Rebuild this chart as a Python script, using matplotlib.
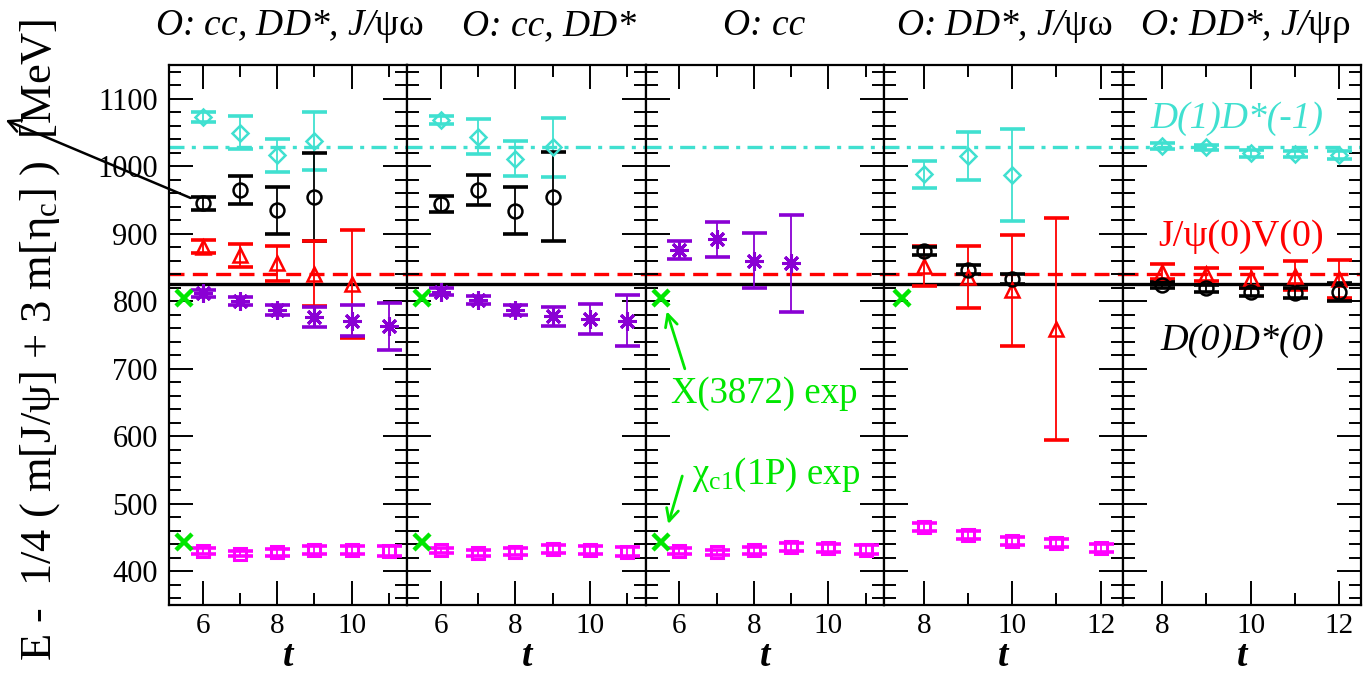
import matplotlib
matplotlib.use("Agg")
import matplotlib.pyplot as plt
from matplotlib.ticker import MultipleLocator

plt.rcParams['font.family'] = ['Liberation Serif', 'DejaVu Serif']
plt.rcParams['mathtext.fontset'] = 'custom'
plt.rcParams['mathtext.rm'] = 'Liberation Serif'
plt.rcParams['mathtext.it'] = 'Liberation Serif:italic'
plt.rcParams['mathtext.bf'] = 'Liberation Serif:bold'
plt.rcParams['mathtext.default'] = 'rm'

# ---------------- data ----------------
titles = ["O: cc, DD*, J/$\\psi\\omega$", "O: cc, DD*", "O: cc",
          "O: DD*, J/$\\psi\\omega$", "O: DD*, J/$\\psi\\rho$"]
title_x_px = [289, 549, 764, 1004, 1245]
xlims = [(5.1, 11.5), (5.1, 11.5), (5.1, 11.5), (7.1, 12.5), (7.1, 12.5)]
xtick_labels = [[6, 8, 10], [6, 8, 10], [6, 8, 10], [8, 10, 12], [8, 10, 12]]

# panel 1
p1_cyan_t = [6, 7, 8, 9];             p1_cyan_v = [1073, 1050, 1016, 1038];    p1_cyan_e = [7, 25, 25, 43]
p1_black_t = [6, 7, 8, 9];            p1_black_v = [945, 965, 935, 955];      p1_black_e = [10, 21, 35, 65]
p1_red_t = [6, 7, 8, 9, 10];          p1_red_v = [881, 868, 856, 841, 825];   p1_red_e = [10, 17, 26, 48, 80]
p1_purple_t = [6, 7, 8, 9, 10, 11];   p1_purple_v = [812, 801, 787, 777, 771, 763]; p1_purple_e = [5, 6, 8, 15, 23, 35]
p1_mag_t = [6, 7, 8, 9, 10, 11];      p1_mag_v = [430, 426, 428, 432, 431, 430];    p1_mag_e = [4, 4, 5, 6, 6, 7]
# panel 2
p2_cyan_t = [6, 7, 8, 9];             p2_cyan_v = [1068, 1044, 1011, 1028];    p2_cyan_e = [6, 26, 26, 44]
p2_black_t = [6, 7, 8, 9];            p2_black_v = [944, 965, 934, 955];      p2_black_e = [12, 22, 35, 66]
p2_purple_t = [6, 7, 8, 9, 10, 11];   p2_purple_v = [814, 802, 787, 778, 774, 771]; p2_purple_e = [5, 6, 8, 14, 22, 38]
p2_mag_t = [6, 7, 8, 9, 10, 11];      p2_mag_v = [431, 427, 429, 433, 431, 429];    p2_mag_e = [4, 4, 5, 6, 6, 7]
# panel 3
p3_purple_t = [6, 7, 8, 9];           p3_purple_v = [876, 892, 860, 856];     p3_purple_e = [14, 26, 41, 72]
p3_mag_t = [6, 7, 8, 9, 10, 11];      p3_mag_v = [430, 428, 431, 436, 435, 432];    p3_mag_e = [4, 4, 5, 6, 6, 7]
# panel 4
p4_cyan_t = [8, 9, 10];               p4_cyan_v = [988, 1015, 987];           p4_cyan_e = [20, 36, 68]
p4_black_t = [8, 9, 10];              p4_black_v = [874, 847, 833];           p4_black_e = [6, 6, 7]
p4_red_t = [8, 9, 10, 11];            p4_red_v = [852, 836, 816, 759];        p4_red_e = [30, 46, 82, 164]
p4_mag_t = [8, 9, 10, 11, 12];        p4_mag_v = [465, 454, 445, 442, 434];   p4_mag_e = [6, 6, 6, 6, 6]
# panel 5
p5_cyan_t = [8, 9, 10, 11, 12];       p5_cyan_v = [1030, 1028, 1019, 1018, 1017]; p5_cyan_e = [5, 4, 5, 5, 6]
p5_red_t = [8, 9, 10, 11, 12];        p5_red_v = [844, 840, 835, 838, 833];   p5_red_e = [11, 10, 15, 21, 28]
p5_black_t = [8, 9, 10, 11, 12];      p5_black_v = [824, 819, 814, 812, 814]; p5_black_e = [5, 5, 6, 7, 13]

# experimental values (green crosses)
exp_x_t = [5.5, 5.5, 5.5, 7.5]
x3872 = 804.6
chic1 = 443.6
chic1_panels = [0, 1, 2]

# thresholds
thr_DD = 826
thr_JpsiV = 841
thr_D1D1 = 1028

# ---------------- styles ----------------
CYAN = '#40E0D0'
BLACK = 'black'
RED = '#FF0000'
PURPLE = '#8A00D4'
MAG = '#FF00FF'
GREEN = '#00E600'

styles = {
    'cyan': dict(color=CYAN, marker='D', ms=8, mfc='none', mew=1.8),
    'black': dict(color=BLACK, marker='o', ms=10, mfc='none', mew=1.8),
    'red': dict(color=RED, marker='^', ms=10, mfc='none', mew=1.8),
    'purple': dict(color=PURPLE, marker=(8, 2, 0), ms=13, mew=2.2),
    'mag': dict(color=MAG, marker='s', ms=9, mfc='none', mew=2.2),
}

panels = [
    [('cyan', p1_cyan_t, p1_cyan_v, p1_cyan_e), ('black', p1_black_t, p1_black_v, p1_black_e),
     ('red', p1_red_t, p1_red_v, p1_red_e), ('purple', p1_purple_t, p1_purple_v, p1_purple_e),
     ('mag', p1_mag_t, p1_mag_v, p1_mag_e)],
    [('cyan', p2_cyan_t, p2_cyan_v, p2_cyan_e), ('black', p2_black_t, p2_black_v, p2_black_e),
     ('purple', p2_purple_t, p2_purple_v, p2_purple_e), ('mag', p2_mag_t, p2_mag_v, p2_mag_e)],
    [('purple', p3_purple_t, p3_purple_v, p3_purple_e), ('mag', p3_mag_t, p3_mag_v, p3_mag_e)],
    [('cyan', p4_cyan_t, p4_cyan_v, p4_cyan_e), ('red', p4_red_t, p4_red_v, p4_red_e),
     ('black', p4_black_t, p4_black_v, p4_black_e), ('mag', p4_mag_t, p4_mag_v, p4_mag_e)],
    [('cyan', p5_cyan_t, p5_cyan_v, p5_cyan_e), ('red', p5_red_t, p5_red_v, p5_red_e),
     ('black', p5_black_t, p5_black_v, p5_black_e)],
]

W, H = 1368, 678
fig = plt.figure(figsize=(W / 100, H / 100), dpi=100)
L, R, B, T = 169 / W, 1361 / W, 1 - 605 / H, 1 - 65 / H
pw = (R - L) / 5
axes = [fig.add_axes([L + i * pw, B, pw, T - B]) for i in range(5)]

for i, ax in enumerate(axes):
    ax.set_xlim(*xlims[i])
    ax.set_ylim(350, 1150)
    for sp in ax.spines.values():
        sp.set_linewidth(1.6)
    # threshold lines
    ax.axhline(thr_D1D1, color=CYAN, lw=2.4, dashes=[4.5, 2.2, 1.2, 2.2], zorder=1)
    ax.axhline(thr_JpsiV, color=RED, lw=2.4, dashes=[4.5, 2.5], zorder=1)
    ax.axhline(thr_DD, color=BLACK, lw=2.4, zorder=1)
    for key, t, v, e in panels[i]:
        st = styles[key]
        ax.errorbar(t, v, yerr=e, fmt='none', ecolor=st['color'], elinewidth=1.3,
                    capsize=9, capthick=2.6, zorder=3)
        ax.plot(t, v, linestyle='none', zorder=4, **st)
    # green crosses
    if i < 4:
        ax.plot([exp_x_t[i]], [x3872], linestyle='none', marker='x',
                ms=12, mew=3.2, color=GREEN, zorder=5)
    if i in chic1_panels:
        ax.plot([exp_x_t[i]], [chic1], linestyle='none', marker='x', ms=12, mew=3.2,
                color=GREEN, zorder=5)
    # ticks
    ax.yaxis.set_major_locator(MultipleLocator(100))
    ax.yaxis.set_minor_locator(MultipleLocator(20))
    ax.xaxis.set_major_locator(MultipleLocator(2))
    ax.xaxis.set_minor_locator(MultipleLocator(1))
    ax.tick_params(which='major', direction='in', length=17, width=1.4,
                   top=True, right=True, labelsize=22, pad=8)
    ax.tick_params(axis='x', which='major', labelsize=21, pad=6)
    ax.tick_params(which='minor', direction='in', length=8.5, width=1.4,
                   top=True, right=True)
    if i > 0:
        ax.tick_params(axis='y', labelleft=False)
    ax.set_xticks(xtick_labels[i])
    ax.set_xticklabels([str(v) for v in xtick_labels[i]])
    ax.set_xlabel('t', fontsize=27, fontweight='bold', fontstyle='italic', labelpad=0)
    fig.text(title_x_px[i] / W, 1 - 35 / H, titles[i], fontsize=27, fontstyle='italic',
             ha='center', va='baseline')

# y label
fig.text(40 / W, 1 - 340 / H, "E -  1/4 ( m[J/ψ] + 3 m[$\\eta_{c}$] )  [MeV]", rotation=90,
         fontsize=32, ha='center', va='center')

# annotations in panel 3
ax3 = axes[2]
ax3.text(5.78, 649, "X(3872) exp", color=GREEN, fontsize=26.5, ha='left', va='baseline')
ax3.annotate("", xy=(5.64, 789), xytext=(6.17, 696),
             arrowprops=dict(arrowstyle='->', color=GREEN, lw=2.0, mutation_scale=22))
ax3.text(6.34, 529, "$\\chi_{c1}$(1P) exp", color=GREEN, fontsize=26.5, ha='left', va='baseline')
ax3.annotate("", xy=(5.68, 466), xytext=(6.10, 545),
             arrowprops=dict(arrowstyle='->', color=GREEN, lw=2.0, mutation_scale=22))

# labels in panel 5
ax5 = axes[4]
ax5.text(9.68, 1071, "D(1)D*(-1)", color=CYAN, fontsize=27, fontstyle='italic',
         ha='center', va='center')
ax5.text(9.78, 895, "J/ψ(0)V(0)", color=RED, fontsize=27.5, ha='center', va='center')
ax5.text(9.80, 742, "D(0)D*(0)", color=BLACK, fontsize=27.5, fontstyle='italic',
         ha='center', va='center')

# black arrow from panel-1 point to the axis label
fig.patches.append(matplotlib.patches.FancyArrowPatch(
    (193 / W, 1 - 199 / H), (3 / W, 1 - 119 / H), transform=fig.transFigure,
    arrowstyle='->', color='black', lw=1.8, mutation_scale=22))

fig.savefig("out.png", dpi=100)
